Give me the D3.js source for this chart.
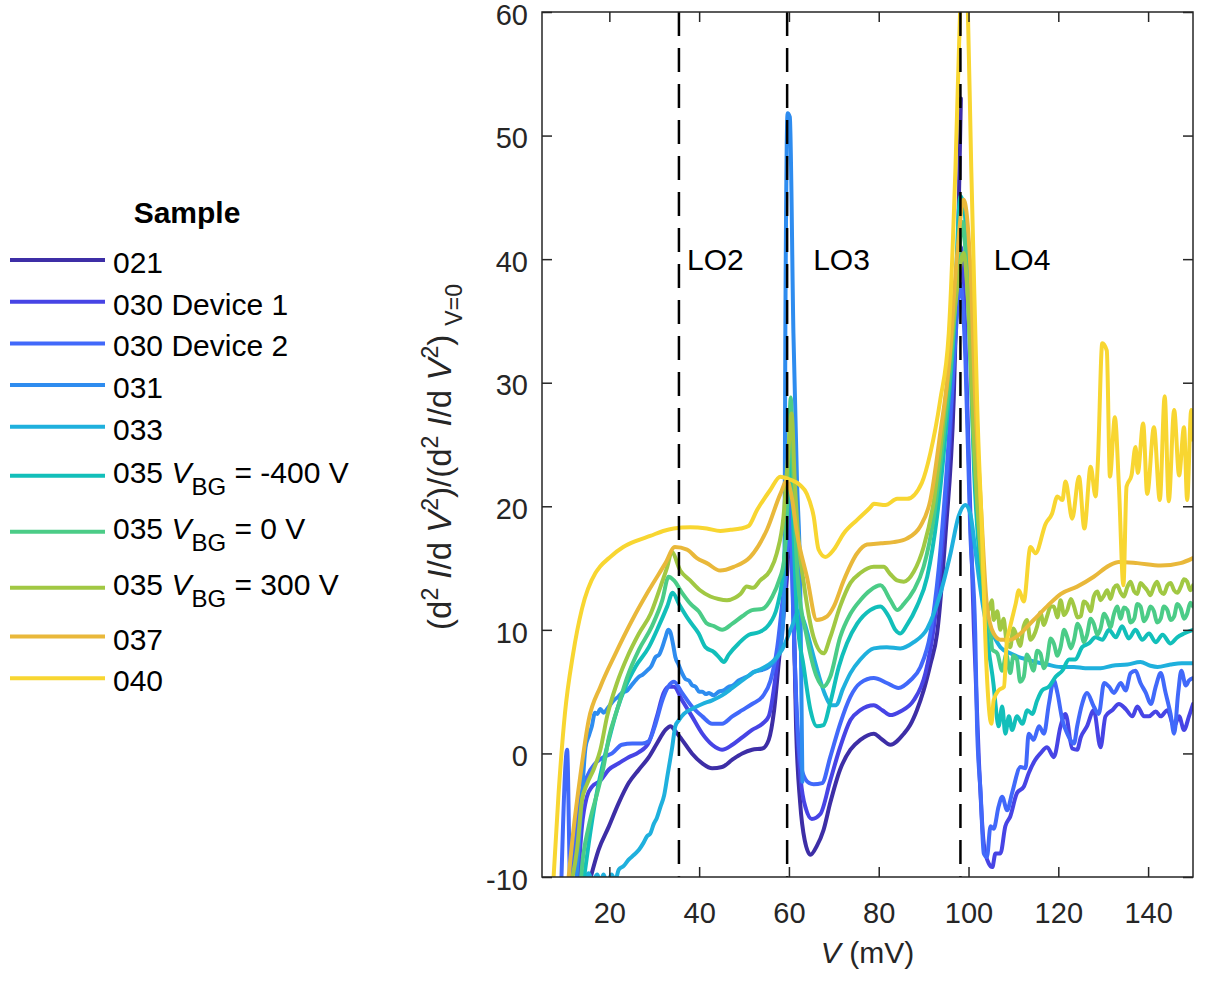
<!DOCTYPE html>
<html>
<head>
<meta charset="utf-8">
<script src="https://cdn.jsdelivr.net/npm/d3@7"></script>
<style>
  body { margin: 0; background: #fff; }
  svg { display: block; font-family: "Liberation Sans", Arial, Helvetica, sans-serif; }
</style>
</head>
<body>
<div id="graphicContainer"></div>
<script>

// Legend entries, in plotting order
const sampleNames = ["021", "030 Device 1", "030 Device 2", "031", "033", "035", "035", "035", "037", "040"]
const gateVoltages = [null, null, null, null, null, "-400", "0", "300", null, null]
const sampleColors = ["#3d2ea6", "#4744e5", "#4169fa", "#2e8cef", "#1fb0dd", "#12bfba", "#4bcc87", "#a1c843", "#e9b83a", "#f8d631"]

// [V (mV), normalised d2I/dV2]
const s021 = [[15.5,-10.5],[17.6,-7.8],[19.9,-5.9],[22.1,-4.0],[24.3,-2.4],[26.6,-1.3],[28.8,-0.3],[30.6,0.8],[32.5,1.9],[33.6,2.2],[34.7,1.8],[36.2,1.1],[38.4,0],[40.7,-0.8],[42.9,-1.2],[45.1,-1.1],[47.4,-0.5],[49.6,0],[51.8,0.3],[54.1,0.4],[55.5,1.1],[56.7,3.5],[57.8,7.6],[58.9,11.6],[59.8,16],[60.3,24],[60.9,14],[61.6,2],[62.5,-4],[63.5,-7],[64.8,-8.2],[66.2,-7.5],[67.7,-6.2],[69.2,-4.0],[71.4,-1.3],[73.7,0.3],[75.9,1.1],[78.9,1.6],[80.5,1.2],[82.6,0.7],[85.6,1.6],[87.0,2.3],[88.5,3.5],[90.0,5.1],[91.5,7.2],[93.0,9.7],[94.9,17.8],[96.7,28.6],[97.6,40],[98.3,53]]

const s030d1 = [[13.0,-10.5],[13.9,-5.9],[15.0,-3.5],[16.1,-2.7],[18.0,-2.2],[19.9,-1.3],[22.1,-0.8],[24.3,-0.3],[26.6,0.1],[28.8,0.9],[30.6,3.0],[32.1,4.9],[33.2,5.4],[34.4,5.4],[36.2,4.3],[38.4,3.0],[40.7,1.6],[42.9,0.7],[45.1,0.3],[47.4,0.7],[49.6,1.3],[51.8,1.9],[54.1,2.4],[55.5,3.0],[57.0,6.2],[58.5,11.6],[59.6,16],[60.2,22],[60.8,14],[61.6,4],[62.6,-2],[63.8,-4.5],[65.1,-5.3],[67.0,-4.9],[69.2,-2.2],[71.4,0.5],[73.7,2.7],[75.9,3.5],[78.9,3.9],[80.8,3.5],[82.6,3.1],[84.8,3.4],[87.8,4.3],[90.4,6.5],[92.3,10.3],[94.1,16.5],[95.8,25],[97.2,35],[98.3,41],[99.2,35],[100.2,22],[101.2,10],[102.3,-0.5],[103.4,-7.3],[104.5,-8.9],[105.3,-9.2],[106.0,-8.1],[107.1,-8.1],[108.2,-5.9],[109.3,-5.1],[110.8,-3.2],[112.3,-2.7],[113.4,-1.6],[114.9,-0.5],[116.0,0],[117.5,0.5],[119.0,-0.3],[120.5,2.2],[121.6,3.2],[123.1,0.4],[124.2,0.3],[125.0,1.3],[126.4,2.2],[127.9,3.5],[129.4,0.5],[130.5,3.0],[132.0,3.5],[133.5,4.0],[135.0,3.6],[136.5,3.0],[137.6,3.8],[139.1,3.0],[140.2,3.0],[141.7,3.4],[142.8,3.0],[144.3,3.5],[145.8,2.2],[146.9,3.0],[148.0,1.9],[149.1,3.0],[150.0,4.0]]

const s030d2 = [[9.3,-10.5],[10.6,0.3],[11.3,-10.5],[12.5,-7],[13.5,-3.8],[15.0,-1.9],[16.9,-0.8],[18.7,-0.3],[20.6,0],[22.8,0.7],[25.1,0.8],[27.3,0.8],[28.8,1.0],[30.3,2.4],[31.8,4.3],[33.1,5.4],[34.4,5.8],[36.2,4.9],[38.4,3.8],[40.7,3.0],[42.9,2.4],[45.1,2.4],[47.4,3.0],[49.6,3.5],[51.8,4.0],[54.1,4.6],[55.9,5.9],[57.4,8.6],[58.5,12.1],[59.6,16],[60.2,21],[60.9,12],[61.8,3],[63.0,-1.5],[64.5,-2.4],[65.5,-2.5],[67.4,-2.4],[69.2,-0.3],[71.4,2.4],[73.7,4.6],[75.9,5.7],[78.9,6.1],[81.8,5.7],[84.4,5.3],[87.0,5.9],[89.3,7.0],[91.5,9.7],[93.4,15.1],[95.2,23.2],[96.8,32],[98.2,38],[99.3,32],[100.4,17.8],[101.5,9.7],[101.9,2.2],[102.7,-3.2],[103.4,-8.1],[104.1,-8.4],[104.9,-5.9],[105.6,-6.1],[106.7,-4.3],[107.5,-3.5],[108.6,-4.6],[109.7,-3.2],[111.6,-1.1],[112.7,-1.2],[113.4,1.6],[114.5,1.1],[115.7,2.2],[116.8,1.6],[117.9,4.0],[119.0,5.9],[119.8,4.9],[120.9,2.7],[122.0,1.6],[123.5,0.8],[124.2,2.2],[125.3,4.0],[126.4,4.9],[127.9,3.8],[129.0,3.2],[130.2,5.7],[131.3,5.4],[132.4,4.9],[133.9,5.7],[135.0,5.1],[136.1,6.5],[137.2,6.7],[138.3,5.7],[139.5,4.9],[140.6,4.0],[141.7,5.4],[142.8,6.5],[143.9,4.9],[145.0,3.2],[145.8,1.6],[146.7,4.9],[147.4,6.7],[148.4,5.5],[149.1,5.9],[150.0,6.1]]

const s031 = [[12.6,-10.5],[13.8,-4],[14.7,0.5],[15.5,1.5],[16.1,2.2],[16.8,3.3],[17.3,3.2],[18.0,3.6],[18.7,3.3],[19.9,3.8],[21.0,4.3],[22.0,4.6],[22.8,4.9],[24.0,5.1],[24.7,5.4],[25.8,5.9],[26.6,6.2],[27.5,6.4],[28.4,6.7],[29.4,7.1],[30.3,7.8],[31.1,8.0],[31.8,8.6],[32.5,9.4],[33.1,10.0],[33.6,9.8],[34.2,8.8],[34.7,7.8],[35.4,7.2],[36.2,6.5],[37.0,6.0],[37.7,5.9],[38.5,5.5],[39.2,5.4],[40.0,5.0],[40.7,5.0],[41.5,4.8],[42.2,4.9],[43.2,4.7],[44.4,5.0],[45.5,5.1],[46.6,5.4],[47.5,5.5],[48.8,5.9],[50.0,6.1],[51.1,6.3],[52.2,6.6],[53.3,6.7],[54.4,6.8],[55.5,7.0],[56.6,7.4],[57.8,8.1],[58.6,10],[59.0,14],[59.2,34],[59.7,51.8],[60.2,51.5],[61.0,34],[61.8,22],[62.5,14],[63.0,-2.3]]

const s033 = [[14.5,-10.5],[15.4,-9.7],[16.2,-10.4],[17.3,-9.8],[18.0,-10.4],[18.7,-9.8],[19.5,-10.5],[20.5,-9.8],[21.3,-10.3],[22.1,-9.4],[23.2,-9.1],[24.3,-8.6],[25.5,-8.2],[26.6,-7.8],[27.5,-7.3],[28.4,-6.7],[29.1,-6.5],[29.9,-5.7],[30.6,-5.2],[31.4,-4.3],[32.2,-3.4],[32.9,-1.9],[33.5,-0.6],[34.0,0.5],[34.7,2.2],[35.5,2.7],[36.6,3.2],[38.4,3.6],[40.7,4.0],[42.9,4.3],[45.1,4.7],[47.4,5.3],[49.6,5.9],[51.8,6.5],[54.1,6.9],[56.3,7.4],[58.5,8.4],[60.7,10.3],[62.2,11.5],[63.5,10.5],[65.0,8.5],[66.5,6.5],[68.0,4.8],[69.5,3.9],[70.5,3.9],[72.0,5.2],[73.7,6.5],[75.9,7.6],[78.9,8.5],[81.8,8.6],[84.8,8.5],[87.8,9.0],[90.8,10.1],[93.7,12.9],[96.0,16.2],[97.8,19.2],[99.3,20.1],[100.4,19.4],[101.5,16.5],[102.7,13.2],[103.8,10.8],[105.3,9.7],[107.1,8.6],[109.3,8.1],[111.2,7.8],[113.1,7.6],[115.0,7.4],[117.5,7.2],[120.5,7.0],[123.5,7.0],[126.0,6.9],[129.4,6.9],[132.0,7.1],[135.4,7.2],[138.3,7.4],[140.5,7.1],[142.1,7.0],[145.0,7.2],[147.5,7.3],[150.0,7.3]]

const s035n400 = [[14.2,-10.5],[15.4,-7.3],[16.9,-3.8],[18.4,-1.1],[19.9,1.1],[21.7,3.5],[23.6,5.4],[25.8,7.0],[28.8,8.6],[31.0,10.3],[32.9,11.9],[34.1,13.0],[35.5,12.1],[37.7,10.8],[39.9,9.7],[41.4,8.6],[43.3,8.2],[44.4,7.8],[45.5,7.4],[46.6,8.0],[48.8,8.9],[51.1,9.6],[53.3,9.8],[55.5,10.4],[57.4,11.9],[58.5,14.0],[59.6,19],[60.3,25],[61.0,18],[61.8,11.1],[63.3,7.0],[64.8,3.5],[66.2,2.2],[67.7,2.3],[69.2,4.1],[71.1,7.0],[72.9,8.9],[75.2,10.5],[78.1,11.6],[80.4,11.9],[82.2,11.1],[83.7,10.0],[84.8,9.7],[86.3,10.4],[88.5,11.9],[90.8,14.3],[93.0,19.2],[94.9,25.9],[96.7,34.0],[98.2,45.1],[99.1,44],[100.2,35],[101.2,23.2],[102.3,16.5],[103.4,12.4],[104.5,8.4],[105.6,5.5],[106.0,4.0],[106.7,2.2],[107.5,3.8],[108.2,1.6],[109.0,3.0],[109.7,1.9],[110.8,3.0],[112.0,2.4],[113.1,3.5],[114.2,3.2],[115.3,4.3],[116.4,5.1],[117.9,5.4],[119.4,6.2],[120.9,6.7],[122.4,7.6],[123.8,7.6],[125.3,8.6],[126.8,8.9],[128.3,9.4],[129.8,9.2],[131.3,10.0],[132.8,9.4],[134.2,10.3],[135.7,9.3],[137.2,10.0],[138.7,9.2],[140.2,9.7],[141.7,9.0],[143.2,9.6],[145.0,8.9],[146.5,9.4],[148.0,9.7],[150.0,10.0]]

const s035z0 = [[13.6,-10.5],[13.9,-9.2],[15.4,-5.9],[17.3,-3.2],[18.7,-1.1],[19.9,1.3],[21.7,3.5],[24.0,6.2],[26.6,8.4],[29.5,10.3],[31.8,12.4],[33.2,14.3],[34.4,14.0],[36.2,13.0],[38.1,12.1],[39.9,11.5],[41.8,10.5],[43.3,10.3],[45.1,10.0],[47.4,10.5],[49.6,11.1],[51.8,11.6],[54.1,11.7],[56.3,12.7],[57.8,14.0],[58.9,15.6],[59.8,22],[60.4,28.8],[61.0,22],[62.0,14],[64.0,9.4],[66.2,6.2],[67.7,5.4],[69.2,6.2],[71.4,9.4],[73.7,11.3],[75.9,12.4],[78.1,13.2],[80.4,13.6],[82.6,12.4],[84.1,11.6],[85.6,12.1],[87.8,13.2],[90.0,15.1],[92.3,19.2],[94.1,24.6],[96.0,31.3],[97.6,39],[98.7,43],[99.7,38],[101.2,24.5],[102.7,16.5],[104.1,11.1],[104.9,9.7],[105.3,8.4],[106.4,8.1],[107.5,6.7],[108.4,8.0],[109.3,6.5],[110.0,7.9],[110.8,7.6],[111.5,5.8],[112.3,6.2],[113.0,8.0],[113.4,7.8],[114.5,6.7],[115.3,8.3],[116.0,8.1],[116.8,6.9],[117.5,7.6],[118.3,9.3],[119.0,8.9],[119.8,7.9],[120.5,8.6],[121.3,10.0],[122.0,9.4],[122.8,8.5],[123.5,9.2],[124.3,10.5],[125.0,10.0],[125.7,9.0],[126.4,9.6],[127.2,10.9],[127.9,10.5],[128.7,9.6],[129.4,10.1],[130.2,11.3],[130.9,10.9],[131.6,10.2],[132.4,11.3],[133.1,11.9],[133.9,10.9],[134.6,11.8],[135.4,11.6],[136.1,10.6],[136.9,10.9],[137.6,12.1],[138.3,11.9],[139.1,10.7],[139.8,11.1],[140.5,11.9],[141.3,11.5],[142.0,10.6],[142.8,10.9],[143.5,11.9],[144.3,11.6],[145.0,10.8],[145.8,11.1],[146.5,12.1],[147.3,11.7],[148.0,10.9],[148.7,11.3],[149.4,12.2],[150.0,11.9]]

const s035p300 = [[11.5,-10.5],[12.8,-7.8],[13.9,-3.8],[15.0,-2.5],[16.5,-1.3],[18.0,0.3],[19.5,3.0],[21.7,5.7],[24.0,7.8],[26.6,9.7],[29.2,11.3],[31.4,13.5],[32.9,15.1],[33.9,16.3],[35.8,14.8],[38.0,14.0],[40.2,13.2],[42.5,12.7],[44.3,12.5],[46.2,12.4],[48.0,12.6],[49.2,12.9],[50.6,13.5],[52.0,13.4],[53.6,14.0],[55.8,14.8],[57.3,16.2],[58.8,19.2],[59.8,24],[60.6,27.5],[61.3,22],[62.2,17],[63.3,13.8],[65.5,9.4],[67.7,8.1],[69.2,9.4],[71.4,11.9],[73.7,13.8],[75.9,14.6],[78.9,15.1],[81.1,15.1],[82.6,14.5],[84.1,14.0],[85.6,13.9],[87.8,14.7],[90.0,16.7],[92.3,20.5],[94.1,25.9],[96.0,32.6],[97.6,38],[98.9,40.5],[100.0,36],[101.5,23.2],[103.0,15.1],[104.5,11.6],[105.2,12.4],[105.6,10.8],[106.4,11.5],[107.1,10.0],[107.8,10.9],[108.5,9.0],[109.3,8.6],[110.0,10.1],[110.8,9.4],[111.5,8.7],[112.3,10.3],[113.0,10.8],[113.8,9.2],[114.5,9.5],[115.3,10.3],[116.0,11.4],[116.8,10.4],[117.5,11.1],[118.3,11.9],[119.0,11.9],[119.8,11.0],[120.5,12.4],[121.3,11.2],[122.0,11.6],[122.8,12.5],[123.5,11.9],[124.3,11.0],[125.0,11.1],[125.7,12.3],[126.4,12.1],[127.2,11.5],[127.9,12.7],[128.7,13.1],[129.4,12.4],[130.2,12.8],[130.9,13.2],[131.6,12.5],[132.4,13.4],[133.1,13.6],[133.9,13.0],[134.6,12.7],[135.4,13.5],[136.1,13.9],[136.9,13.1],[137.6,12.9],[138.3,13.8],[139.1,13.5],[139.8,13.2],[140.5,12.8],[141.3,13.5],[142.0,13.9],[142.8,13.1],[143.5,12.9],[144.3,13.6],[145.0,13.8],[145.8,13.2],[146.5,13.0],[147.3,13.5],[148.0,14.1],[148.7,13.9],[149.4,13.2],[150.0,13.6]]

const s037 = [[10.8,-10.5],[12.1,-5.9],[13.5,-1.9],[15.4,2.7],[18.0,5.4],[21.4,8.1],[25.1,10.8],[28.8,13.2],[32.5,15.4],[34.6,16.7],[37.3,16.5],[39.5,15.8],[41.7,15.4],[44.7,14.8],[47.7,15.1],[51.4,15.9],[55.1,18.1],[58.1,21.0],[59.6,22.1],[60.5,21],[61.8,17.8],[64.0,14.3],[66.2,10.8],[68.5,11.1],[70.0,11.9],[72.2,14.0],[75.2,16.2],[77.4,16.9],[80.5,17.0],[83.3,17.1],[86.3,17.4],[89.3,18.4],[91.5,20.5],[93.7,25.9],[95.6,31.3],[97.5,40.5],[98.9,44.8],[100.4,39.4],[101.5,28.6],[102.7,20.5],[104.1,12.0],[105.6,9.7],[107.1,9.2],[109.3,9.2],[111.2,9.6],[114.5,10.8],[117.5,11.9],[120.5,12.9],[124.2,13.5],[127.9,14.3],[131.3,15.2],[133.5,15.5],[137.6,15.4],[142.8,15.2],[147.2,15.4],[150.0,15.8]]

const s040 = [[7.5,-10.5],[8.7,-3.2],[10.1,3.2],[11.9,8.0],[13.9,11.7],[16.9,14.6],[17.9,15.1],[20.2,15.9],[23.1,16.7],[26.0,17.2],[29.1,17.6],[32.0,18.0],[34.3,18.2],[38.0,18.3],[41.7,18.2],[44.7,18.0],[47.0,18.1],[49.2,18.2],[51.0,18.4],[52.9,19.7],[55.8,21.3],[58.1,22.4],[59.9,22.2],[62.5,21.7],[64.0,21.0],[65.5,19.2],[66.6,16.5],[68.1,15.9],[70.0,16.5],[72.2,17.8],[75.2,18.9],[78.1,19.9],[78.9,20.2],[81.5,20.1],[84.1,20.6],[86.3,20.6],[89.6,21.9],[91.5,24.3],[93.7,28.6],[95.6,34.0],[97.1,47.5],[98.2,61],[99.0,68],[99.8,61],[100.6,47.5],[101.5,34.3],[101.9,28.6],[103.0,17.8],[104.0,7.0],[105.1,2.4],[105.6,4.3],[106.7,5.1],[107.9,5.4],[108.5,8.9],[109.3,10.3],[110.5,12.1],[111.2,13.2],[112.3,12.3],[113.8,16.7],[114.9,16.2],[117.2,18.6],[118.6,19.4],[119.8,20.8],[120.9,20.5],[121.6,22.0],[123.1,19.0],[124.6,22.4],[125.8,18.2],[127.2,23.2],[128.3,20.8],[128.8,23.5],[129.8,33.2],[130.8,32.6],[131.5,22.4],[132.6,27.2],[133.5,21.6],[134.5,13.6],[135.2,21.6],[136.3,22.5],[137.2,24.8],[137.7,22.7],[138.9,26.7],[139.8,21.0],[141.3,26.4],[142.6,20.5],[143.7,28.9],[144.6,20.4],[145.8,27.8],[146.9,22.5],[148.0,26.4],[148.7,20.5],[149.6,27.8],[150.0,25.4]]

const seriesList = [s021, s030d1, s030d2, s031, s033, s035n400, s035z0, s035p300, s037, s040]

// LO phonon energies (mV) and their labels
const phononLines = [35.5, 59.6, 98.2]
const phononLabels = ["LO2", "LO3", "LO4"]
const phononLabelPos = [[37.3, 40], [65.4, 40], [105.6, 40]]

const xTickValues = [20, 40, 60, 80, 100, 120, 140]
const yTickValues = [-10, 0, 10, 20, 30, 40, 50, 60]

const svgWidth = 1206
const svgHeight = 985
const marginleft = 542
const marginright = 13
const margintop = 12
const marginbottom = 108

const axisColor = "#262626"
const tickFont = 29
const labelFont = 30

const svg = d3.select("#graphicContainer")
  .append("svg")
  .attr("width", svgWidth)
  .attr("height", svgHeight)

const x = d3.scaleLinear()
  .domain([5, 150])
  .range([marginleft, svgWidth - marginright])

const y = d3.scaleLinear()
  .domain([-10, 60])
  .range([svgHeight - marginbottom, margintop])

svg.append("defs")
  .append("clipPath")
  .attr("id", "plotClip")
  .append("rect")
  .attr("x", x(5))
  .attr("y", y(60))
  .attr("width", x(150) - x(5))
  .attr("height", y(-10) - y(60))

const features = svg.append("g").attr("clip-path", "url(#plotClip)")

const line = d3.line()
  .x(d => x(d[0]))
  .y(d => y(d[1]))
  .curve(d3.curveMonotoneX)

features.selectAll(".curve")
  .data(seriesList)
  .enter()
  .append("path")
  .attr("class", "curve")
  .attr("d", line)
  .attr("fill", "none")
  .attr("stroke", (d, i) => sampleColors[i])
  .attr("stroke-width", 4)
  .attr("stroke-linejoin", "round")
  .attr("stroke-linecap", "round")

// dashed phonon lines sit on top of the data
features.selectAll(".loLine")
  .data(phononLines)
  .enter()
  .append("line")
  .attr("x1", d => x(d))
  .attr("x2", d => x(d))
  .attr("y1", y(60))
  .attr("y2", y(-10))
  .attr("stroke", "#000")
  .attr("stroke-width", 2.5)
  .attr("stroke-dasharray", "24,12")

svg.selectAll(".loText")
  .data(phononLabels)
  .enter()
  .append("text")
  .attr("x", (d, i) => x(phononLabelPos[i][0]))
  .attr("y", (d, i) => y(phononLabelPos[i][1]))
  .attr("dy", "0.35em")
  .style("font-size", labelFont + "px")
  .attr("fill", "#000")
  .text(d => d)

// axes, MATLAB style: ticks pointing inward on all four sides
const plainNum = d => String(d)
const xAxisBottom = d3.axisBottom(x).tickValues(xTickValues).tickSizeInner(-10).tickSizeOuter(0).tickPadding(25).tickFormat(plainNum)
const xAxisTop = d3.axisTop(x).tickValues(xTickValues).tickSizeInner(-10).tickSizeOuter(0).tickFormat("")
const yAxisLeft = d3.axisLeft(y).tickValues(yTickValues).tickSizeInner(-10).tickSizeOuter(0).tickPadding(14).tickFormat(plainNum)
const yAxisRight = d3.axisRight(y).tickValues(yTickValues).tickSizeInner(-10).tickSizeOuter(0).tickFormat("")

const axes = [
  svg.append("g").attr("transform", `translate(0,${y(-10)})`).call(xAxisBottom),
  svg.append("g").attr("transform", `translate(0,${y(60)})`).call(xAxisTop),
  svg.append("g").attr("transform", `translate(${x(5)},0)`).call(yAxisLeft),
  svg.append("g").attr("transform", `translate(${x(150)},0)`).call(yAxisRight)
]

axes.forEach(g => {
  g.select(".domain").remove()
  g.selectAll(".tick line").attr("stroke", axisColor).attr("stroke-width", 1.5)
  g.selectAll(".tick text")
    .attr("fill", axisColor)
    .style("font-size", tickFont + "px")
    .style("font-family", '"Liberation Sans", Arial, Helvetica, sans-serif')
})

// nudge y tick labels down a touch so the top one stays inside the page
axes[2].selectAll(".tick text").attr("dy", "0.42em")

svg.append("rect")
  .attr("x", x(5))
  .attr("y", y(60))
  .attr("width", x(150) - x(5))
  .attr("height", y(-10) - y(60))
  .attr("fill", "none")
  .attr("stroke", axisColor)
  .attr("stroke-width", 1.5)

// x label
const xLabel = svg.append("text")
  .attr("x", (x(5) + x(150)) / 2)
  .attr("y", 963)
  .attr("text-anchor", "middle")
  .attr("fill", axisColor)
  .style("font-size", labelFont + "px")

xLabel.append("tspan").style("font-style", "italic").text("V")
xLabel.append("tspan").text(" (mV)")

// y label
const yLabel = svg.append("text")
  .attr("transform", `translate(451,457) rotate(-90)`)
  .attr("text-anchor", "middle")
  .attr("fill", axisColor)
  .style("font-size", "33px")

const yLabelParts = [
  { t: "(d" }, { t: "2", sup: true }, { t: " " }, { t: "I", it: true }, { t: "/d " }, { t: "V", it: true }, { t: "2", sup: true },
  { t: ")/(d" }, { t: "2", sup: true }, { t: " " }, { t: "I", it: true }, { t: "/d " }, { t: "V", it: true }, { t: "2", sup: true },
  { t: ") " }, { t: "V=0", sub: true }
]

let shift = 0
yLabelParts.forEach(p => {
  const target = p.sup ? -13 : p.sub ? 11 : 0
  yLabel.append("tspan")
    .attr("dy", target - shift)
    .style("font-size", (p.sup || p.sub ? 23 : 33) + "px")
    .style("font-style", p.it ? "italic" : "normal")
    .text(p.t)
  shift = target
})

// legend
const legend = svg.append("g")

legend.append("text")
  .attr("x", 187)
  .attr("y", 223)
  .attr("text-anchor", "middle")
  .style("font-size", labelFont + "px")
  .style("font-weight", "bold")
  .attr("fill", "#000")
  .text("Sample")

let rowTop = 239.15

sampleNames.forEach((name, i) => {
  const gate = gateVoltages[i]
  const half = gate ? 28 : 20.85
  const cy = rowTop + half
  rowTop += half * 2

  legend.append("line")
    .attr("x1", 10)
    .attr("x2", 105)
    .attr("y1", cy)
    .attr("y2", cy)
    .attr("stroke", sampleColors[i])
    .attr("stroke-width", 4)

  const keyText = legend.append("text")
    .attr("x", 113)
    .attr("y", gate ? cy + 7 : cy + 13)
    .attr("fill", "#000")
    .style("font-size", labelFont + "px")

  if (gate) {
    keyText.append("tspan").text(name + " ")
    keyText.append("tspan").style("font-style", "italic").text("V")
    keyText.append("tspan").attr("dy", 12).style("font-size", "24px").text("BG")
    keyText.append("tspan").attr("dy", -12).text(" = " + gate + " V")
  } else {
    keyText.text(name)
  }
})

</script>
</body>
</html>
